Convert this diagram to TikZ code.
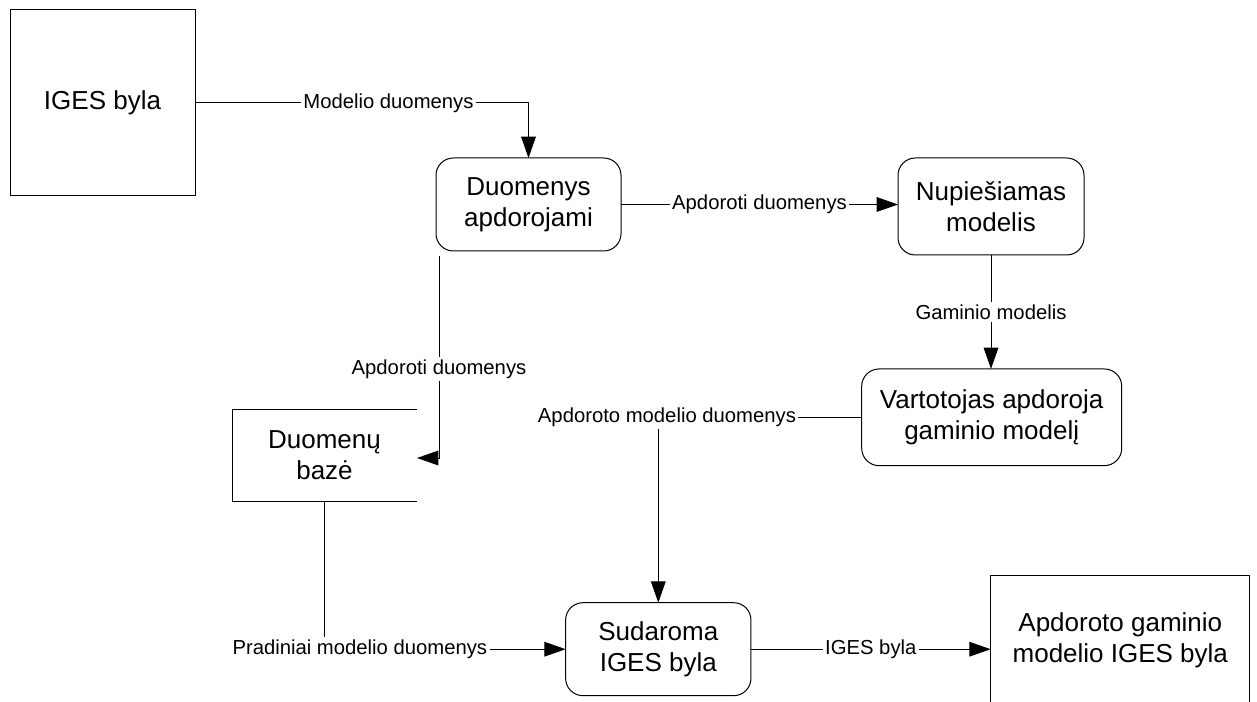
\documentclass[tikz,border=0pt]{standalone}
\usepackage{fontspec}
\setmainfont{Liberation Sans}
\usetikzlibrary{arrows.meta}
\newcommand\mainfs{\fontsize{19.5pt}{23pt}\selectfont}
\newcommand\lblfs{\fontsize{15.2pt}{18pt}\selectfont}
\begin{document}
\begin{tikzpicture}[x=0.75pt,y=-0.75pt,
  line width=0.75pt,
  ent/.style={draw, inner sep=0pt, outer sep=0pt, align=center, font=\mainfs},
  proc/.style={ent, rounded corners=13pt},
  store/.style={inner sep=0pt, outer sep=0pt, align=center, font=\mainfs},
  lbl/.style={fill=white, inner sep=1.8pt, font=\lblfs},
  flow/.style={draw, -{Triangle[length=16pt,width=11pt]}}
]
\useasboundingbox (0,0) rectangle (1257,702);
\clip (0,0) rectangle (1257,702);

% entities / processes
\node[ent, minimum width=138.75pt, minimum height=139.5pt] (iges) at (102.5,103) {IGES byla};
\node[proc, minimum width=138.75pt, minimum height=69.75pt] (p1) at (528.5,204.5) {Duomenys\\apdorojami};
\node[proc, minimum width=139.5pt, minimum height=72.75pt] (p2) at (991,206.5) {Nupiešiamas\\modelis};
\node[proc, minimum width=195pt, minimum height=72.5pt] (p3) at (991.7,417.3) {Vartotojas apdoroja\\gaminio modelį};
\node[store, minimum width=138.75pt, minimum height=69pt] (db) at (324.5,455) {Duomenų\\bazė};
\draw (db.north east) -- (db.north west) -- (db.south west) -- (db.south east);
\node[proc, minimum width=139pt, minimum height=69.75pt] (p4) at (658.3,649.2) {Sudaroma\\IGES byla};
\node[ent, minimum width=194.5pt, minimum height=98.25pt] (out) at (1120.3,640.5) {Apdoroto gaminio\\modelio IGES byla};

% connectors
\draw[flow] (iges.east) -- node[lbl, pos=0.58] {Modelio duomenys} (iges.east -| p1.north) -- (p1.north);
\draw[flow] (p1.east) -- node[lbl] {Apdoroti duomenys} (p1.east -| p2.west);
\draw[flow] (p2.south) -- node[lbl] {Gaminio modelis} (p2.south |- p3.north);

\coordinate (c1) at ([shift={(3,5)}]p1.south west);
\draw[flow] (c1) |- node[lbl, pos=0.28] {Apdoroti duomenys} ([yshift=-2.25pt]db.east);

\coordinate (c2) at (p3.west -| p4.north);
\draw[flow] (p3.west) -- (c2) -- (p4.north);
\node[lbl] at ([xshift=6.5pt]c2) {Apdoroto modelio duomenys};

\coordinate (c3) at (db.south |- p4.west);
\draw[flow] (db.south) -- (c3) -- (p4.west);
\node[lbl] at ([xshift=26.5pt]c3) {Pradiniai modelio duomenys};

\draw[flow] (p4.east) -- node[lbl] {IGES byla} (p4.east -| out.west);
\end{tikzpicture}
\end{document}
